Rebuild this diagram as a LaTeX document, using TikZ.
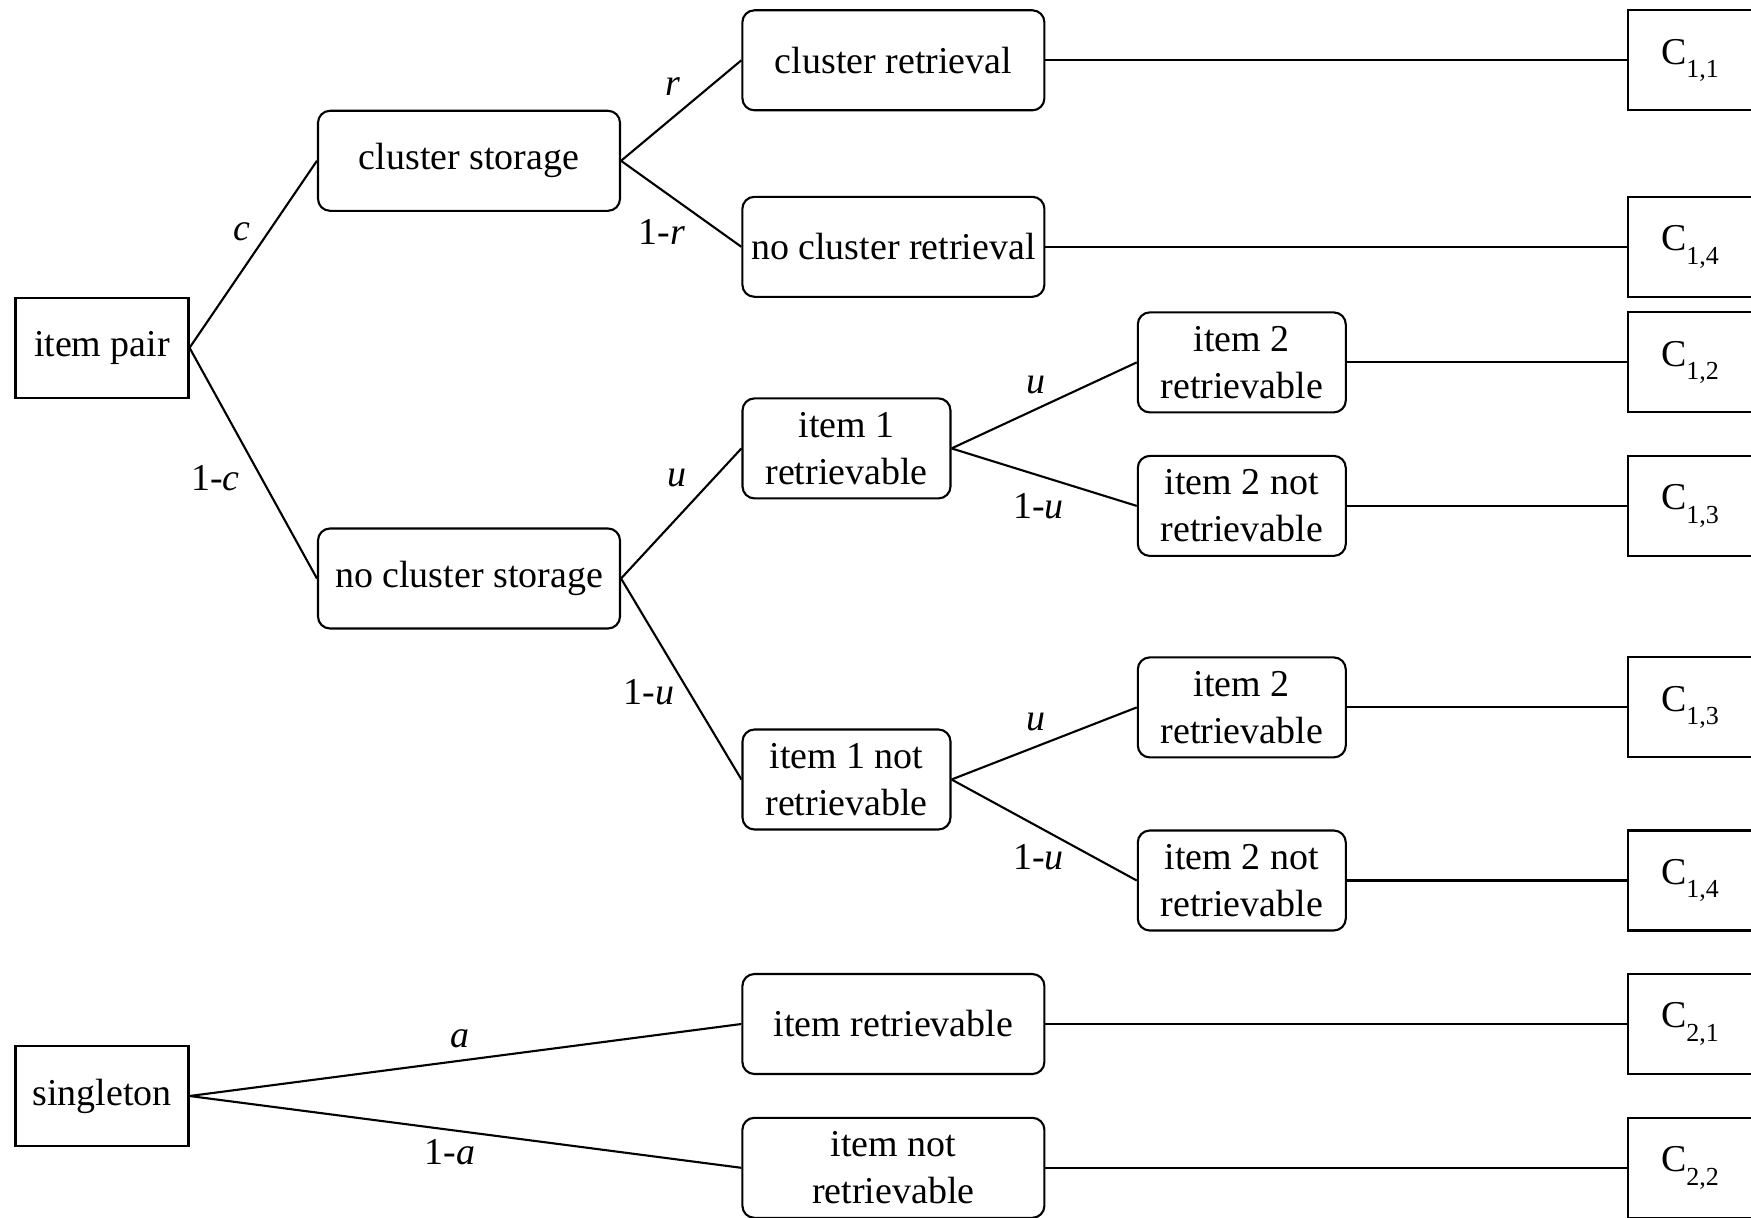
\documentclass[tikz,border=0pt]{standalone}
\usepackage{fontspec}
\setmainfont{Liberation Serif}
\usepackage{tikz}
\newcommand{\catsub}[1]{\raisebox{-0.36em}{\fontsize{7.4}{8}\selectfont #1}}

\begin{document}
\begin{tikzpicture}[
    font=\fontsize{10.8}{13.3}\selectfont,
    line width=0.6pt,
    box/.style={draw, rounded corners=1.2mm, minimum height=1cm, align=center, inner sep=2pt},
    widebox/.style={box, minimum width=3.02cm},
    smallbox/.style={box, minimum width=2.08cm},
    rootbox/.style={draw, minimum width=1.73cm, minimum height=1cm},
    leafbox/.style={draw, anchor=west, minimum height=1cm, text width=1.2cm, align=left, inner xsep=0.33cm},
    prob/.style={inner sep=1pt}
  ]
  \useasboundingbox (0,0) rectangle (17.51,-12.18);
  \clip (0,0) rectangle (17.51,-12.18);
  % roots
  \node[rootbox] (pair) at (1.02,-3.478) {item pair};
  \node[rootbox] (single) at (1.02,-10.96) {singleton};
  % storage
  \node[widebox] (cs) at (4.69,-1.608) {cluster storage};
  \node[widebox] (ncs) at (4.69,-5.785) {no cluster storage};
  % retrieval
  \node[widebox] (cr) at (8.934,-0.603) {cluster retrieval};
  \node[widebox] (ncr) at (8.934,-2.468) {no cluster retrieval};
  \node[smallbox] (ione) at (8.465,-4.484) {item 1\\retrievable};
  \node[smallbox] (ionen) at (8.465,-7.795) {item 1 not\\retrievable};
  \node[smallbox] (itwoa) at (12.418,-3.624) {item 2\\retrievable};
  \node[smallbox] (itwoan) at (12.418,-5.059) {item 2 not\\retrievable};
  \node[smallbox] (itwob) at (12.418,-7.074) {item 2\\retrievable};
  \node[smallbox] (itwobn) at (12.418,-8.805) {item 2 not\\retrievable};
  \node[widebox] (iret) at (8.934,-10.24) {item retrievable};
  \node[widebox] (inret) at (8.934,-11.678) {item not\\retrievable};
  % categories
  \node[leafbox] (cata) at (16.27,-0.603) {C\catsub{1,1}};
  \node[leafbox] (catb) at (16.27,-2.468) {C\catsub{1,4}};
  \node[leafbox] (catc) at (16.27,-3.624) {C\catsub{1,2}};
  \node[leafbox] (catd) at (16.27,-5.059) {C\catsub{1,3}};
  \node[leafbox] (cate) at (16.27,-7.074) {C\catsub{1,3}};
  \node[leafbox] (catf) at (16.27,-8.805) {C\catsub{1,4}};
  \node[leafbox] (catg) at (16.27,-10.24) {C\catsub{2,1}};
  \node[leafbox] (cath) at (16.27,-11.678) {C\catsub{2,2}};
  % branches
  \foreach \a/\b in {pair/cs, pair/ncs, cs/cr, cs/ncr, ncs/ione, ncs/ionen,
                     ione/itwoa, ione/itwoan, ionen/itwob, ionen/itwobn,
                     single/iret, single/inret}
    \draw (\a.east) -- (\b.west);
  \foreach \a/\b in {cr/cata, ncr/catb, itwoa/catc, itwoan/catd,
                     itwob/cate, itwobn/catf, iret/catg, inret/cath}
    \draw (\a.east) -- (\b.west);
  % probabilities
  \node[prob] (pc) at (2.42,-2.32) {\textit{c}};
  \node[prob] (pnc) at (2.155,-4.78) {1-\textit{c}};
  \node[prob] (pr) at (6.73,-0.87) {\textit{r}};
  \node[prob] (pnr) at (6.62,-2.32) {1-\textit{r}};
  \node[prob] (pu) at (6.77,-4.78) {\textit{u}};
  \node[prob] (pnu) at (6.49,-6.92) {1-\textit{u}};
  \node[prob] (pua) at (10.36,-3.85) {\textit{u}};
  \node[prob] (pnua) at (10.385,-5.06) {1-\textit{u}};
  \node[prob] (pub) at (10.36,-7.225) {\textit{u}};
  \node[prob] (pnub) at (10.385,-8.576) {1-\textit{u}};
  \node[prob] (pa) at (4.60,-10.385) {\textit{a}};
  \node[prob] (pna) at (4.50,-11.524) {1-\textit{a}};
\end{tikzpicture}
\end{document}
